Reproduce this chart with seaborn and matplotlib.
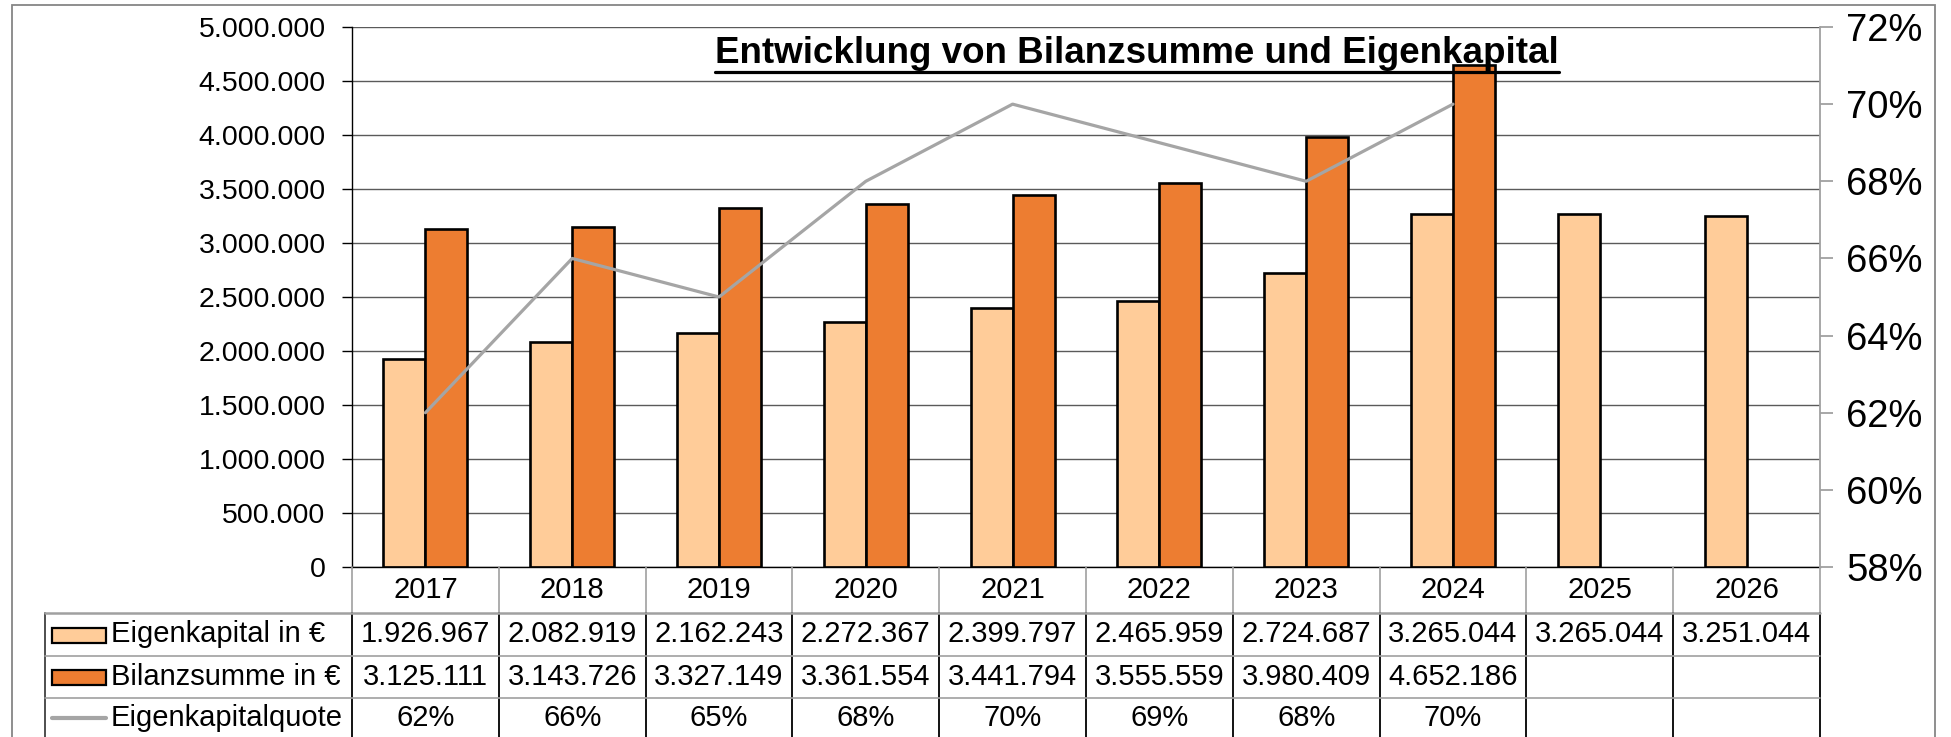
import numpy as np
import pandas as pd
import matplotlib
matplotlib.use("Agg")
import matplotlib.pyplot as plt
import matplotlib.transforms as mtransforms
from matplotlib.patches import Rectangle
from matplotlib.lines import Line2D
import seaborn as sns

# --- data ---
years = ["2017", "2018", "2019", "2020", "2021", "2022", "2023", "2024", "2025", "2026"]
eigenkapital = [1926967, 2082919, 2162243, 2272367, 2399797, 2465959, 2724687, 3265044, 3265044, 3251044]
bilanzsumme = [3125111, 3143726, 3327149, 3361554, 3441794, 3555559, 3980409, 4652186, np.nan, np.nan]
quote = [62, 66, 65, 68, 70, 69, 68, 70]  # Eigenkapitalquote in %

series_names = ["Eigenkapital in €", "Bilanzsumme in €", "Eigenkapitalquote"]
title = "Entwicklung von Bilanzsumme und Eigenkapital"

c_ek = "#FFCC99"
c_bs = "#ED7D31"
c_line = "#A5A5A5"

W, H = 1951, 737
sns.set_theme(style="white")
plt.rcParams["font.family"] = ["Liberation Sans", "DejaVu Sans"]
plt.rcParams["text.color"] = "black"
plt.rcParams["ytick.labelcolor"] = "black"
plt.rcParams["xtick.labelcolor"] = "black"


def fx(px):
    return px / W


def fy(py):
    return 1 - py / H


def de_num(v):
    return f"{v:,.0f}".replace(",", ".")


fig = plt.figure(figsize=(W / 100, H / 100), dpi=100)
fig.patch.set_facecolor("white")

left, right, top, bottom = 352, 1820, 27, 567
ax = fig.add_axes([fx(left), fy(bottom), (right - left) / W, (bottom - top) / H])

df = pd.DataFrame({
    "Jahr": years * 2,
    "Wert": eigenkapital + bilanzsumme,
    "Reihe": [series_names[0]] * len(years) + [series_names[1]] * len(years),
}).dropna()

sns.barplot(data=df, x="Jahr", y="Wert", hue="Reihe", order=years,
            hue_order=series_names[:2], palette=[c_ek, c_bs], width=0.572,
            edgecolor="black", linewidth=1.9, errorbar=None, legend=False,
            saturation=1, ax=ax, zorder=2)

ax.set_xlim(-0.5, len(years) - 0.5)
ax.set_ylim(0, 5_000_000)
ticks = np.arange(0, 5_000_001, 500_000)
ax.set_yticks(ticks)
ax.set_yticklabels([de_num(t) for t in ticks])
ax.yaxis.grid(True, color="#5A5A5A", linewidth=1.0)
ax.set_axisbelow(True)
ax.set_xlabel("")
ax.set_ylabel("")
ax.tick_params(axis="x", length=0, labelbottom=False)
ax.tick_params(axis="y", left=True, color="black", labelcolor="black",
               length=7, width=1, pad=12, labelsize=20.5)
for s in ["top", "right"]:
    ax.spines[s].set_visible(False)
for s in ["left", "bottom"]:
    ax.spines[s].set_color("black")
    ax.spines[s].set_linewidth(1.0)

# line on secondary axis
ax2 = ax.twinx()
sns.lineplot(x=np.arange(len(quote)), y=quote, ax=ax2, color=c_line, linewidth=2.3)
ax2.set_xlim(-0.5, len(years) - 0.5)
ax2.set_ylim(58, 72)
pticks = np.arange(58, 73, 2)
ax2.set_yticks(pticks)
ax2.set_yticklabels([f"{p}%" for p in pticks])
ax2.grid(False)
ax2.tick_params(axis="y", right=True, color="#A0A0A0", labelcolor="black",
                length=9, width=1.3, pad=10, labelsize=27.5)
for s in ["top", "left", "bottom"]:
    ax2.spines[s].set_visible(False)
ax2.spines["right"].set_color("#A0A0A0")
ax2.spines["right"].set_linewidth(1.3)

# title with underline
t = fig.text(fx(1137), fy(63), title, ha="center", va="baseline", color="black",
             fontsize=26.5, fontweight="bold", zorder=10)
fig.canvas.draw()
bb = t.get_window_extent(renderer=fig.canvas.get_renderer())
fig.add_artist(Line2D([bb.x0 / W, bb.x1 / W], [fy(71.5), fy(71.5)],
                      transform=fig.transFigure, color="black", linewidth=2.3, zorder=10))

# data table below the axis
trans = mtransforms.blended_transform_factory(ax.transData, fig.transFigure)
row_top = 613
row_lines = [613, 656, 698]
row_centers = [634.5, 677, 718]
fs_tab = 21

for i, yr in enumerate(years):
    fig.text(i, fy(590), yr, transform=trans, ha="center", va="center", fontsize=fs_tab)
for i in range(len(years) + 1):
    fig.add_artist(Line2D([i - 0.5, i - 0.5], [fy(bottom), fy(row_top)], transform=trans,
                          color="#A0A0A0", linewidth=1.2))
    fig.add_artist(Line2D([i - 0.5, i - 0.5], [fy(row_top), fy(760)], transform=trans,
                          color="black", linewidth=1.3))
fig.add_artist(Line2D([fx(45), fx(45)], [fy(row_top), fy(760)], transform=fig.transFigure,
                      color="#404040", linewidth=1.3))
for k, yl in enumerate(row_lines):
    fig.add_artist(Line2D([fx(45), fx(right)], [fy(yl), fy(yl)], transform=fig.transFigure,
                          color="#A0A0A0", linewidth=1.8 if k == 0 else 1.2))

# legend keys + labels
for k, col in enumerate([c_ek, c_bs]):
    yc = row_centers[k]
    fig.add_artist(Rectangle((fx(52), fy(yc + 8)), 54 / W, 15 / H, transform=fig.transFigure,
                             facecolor=col, edgecolor="black", linewidth=1.6))
fig.add_artist(Line2D([fx(52), fx(106)], [fy(row_centers[2]), fy(row_centers[2])],
                      transform=fig.transFigure, color=c_line, linewidth=3))
for k, name in enumerate(series_names):
    fig.text(fx(111), fy(row_centers[k]), name, ha="left", va="center", fontsize=fs_tab)

for i, v in enumerate(eigenkapital):
    fig.text(i, fy(row_centers[0]), de_num(v), transform=trans, ha="center", va="center", fontsize=fs_tab)
for i, v in enumerate(bilanzsumme):
    if not np.isnan(v):
        fig.text(i, fy(row_centers[1]), de_num(v), transform=trans, ha="center", va="center", fontsize=fs_tab)
for i, q in enumerate(quote):
    fig.text(i, fy(row_centers[2]), f"{q}%", transform=trans, ha="center", va="center", fontsize=fs_tab)

# chart border
fig.add_artist(Rectangle((fx(12), fy(770)), (1935 - 12) / W, (770 - 5) / H, transform=fig.transFigure,
                         fill=False, edgecolor="#868686", linewidth=1.3))

fig.savefig("out.png", dpi=100)
